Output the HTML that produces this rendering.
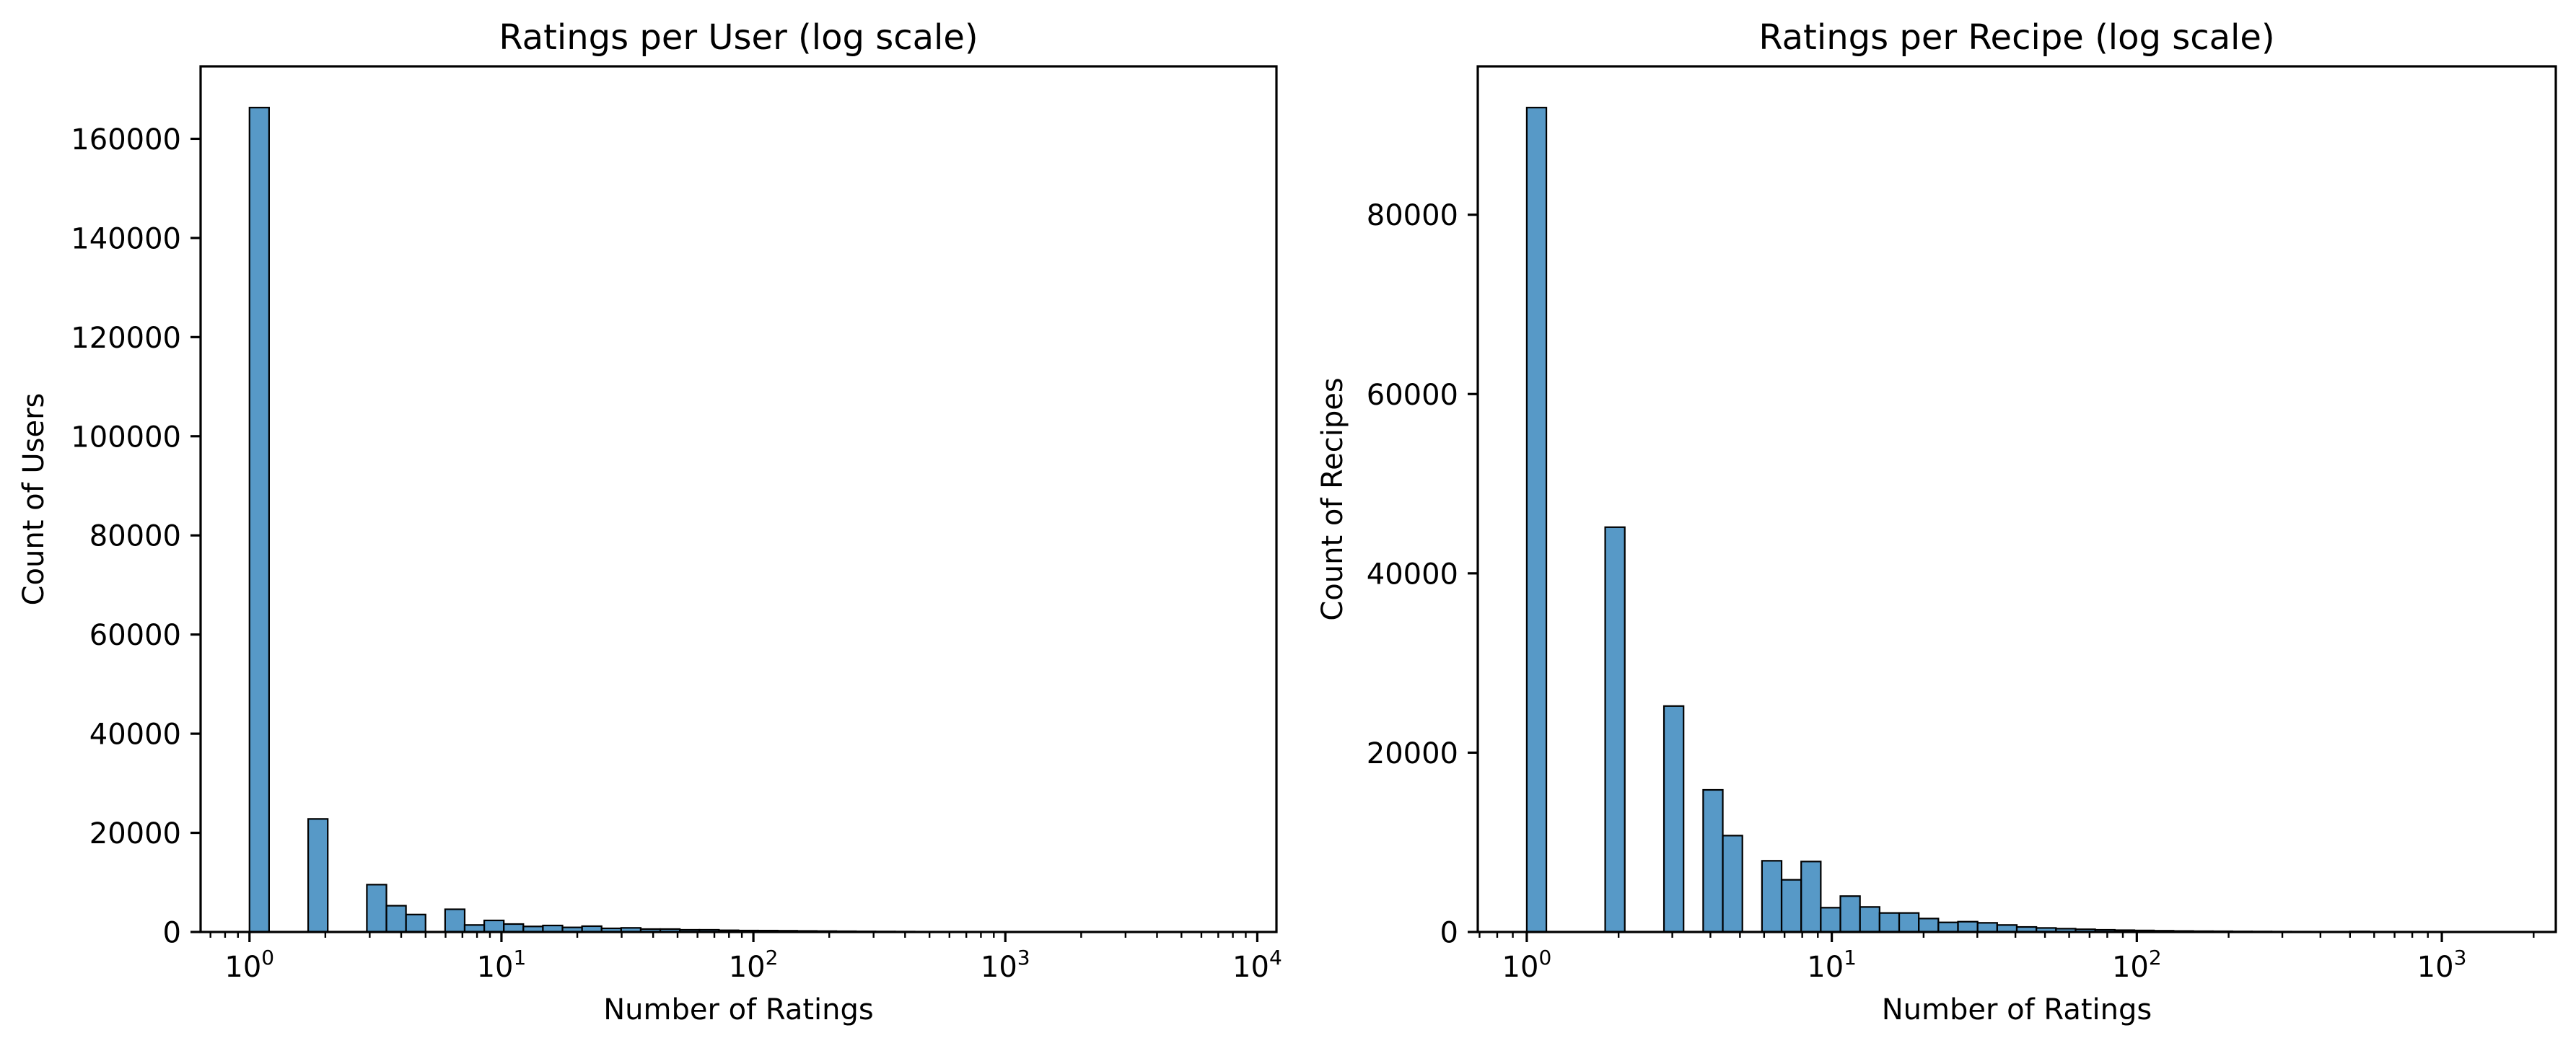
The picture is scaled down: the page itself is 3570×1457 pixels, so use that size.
<!DOCTYPE html>
<html><head><meta charset="utf-8"><style>
html,body{margin:0;padding:0;background:#fff}
svg text{font-family:"DejaVu Sans","Liberation Sans",sans-serif;fill:#000}
</style></head><body>
<svg id="fig" width="3570" height="1452" viewBox="0 0 3570 1452" xmlns="http://www.w3.org/2000/svg"></svg>
<script>
// Left: Ratings per User (50 log bins)
const userLogMax = 3.882;
const userCounts = [166300,0,0,22800,0,0,9550,5300,3520,0,4580,1410,2330,1600,1120,1310,925,1170,730,830,585,585,440,440,340,290,280,250,210,180,150,120,100,80,60,50,40,30,20,10,5,4,3,2,2,1,1,1,0,1];
const userYTicks = [0,20000,40000,60000,80000,100000,120000,140000,160000];
const userXDecades = [0,1,2,3,4];
// Right: Ratings per Recipe
const recipeLogMax = 3.213;
const recipeCounts = [91950,0,0,0,45150,0,0,25200,0,15850,10750,0,7940,5820,7860,2710,4000,2790,2120,2120,1500,1070,1150,1020,780,560,450,370,300,240,200,170,140,110,90,80,60,50,40,35,30,20,60,15,10,8,5,3,2,1];
const recipeYTicks = [0,20000,40000,60000,80000];
const recipeXDecades = [0,1,2,3];

const NS="http://www.w3.org/2000/svg";
const svg=document.getElementById('fig');
function mk(tag,attrs,parent){const e=document.createElementNS(NS,tag);for(const k in attrs)e.setAttribute(k,attrs[k]);(parent||svg).appendChild(e);return e;}

function panel(cfg){
  const L=cfg.left,R=cfg.right,T=92,B=1292;
  const nb=cfg.counts.length, bw=cfg.logMax/nb, pad=cfg.logMax*0.05;
  const x=v=>L+(v+pad)/(cfg.logMax+2*pad)*(R-L);
  const ymax=Math.max(...cfg.counts)*1.05;
  const y=v=>B-v/ymax*(B-T);
  const g=mk('g',{});
  
  
  cfg.counts.forEach((c,i)=>{
    if(c<=0)return;
    const r=mk('rect',{x:x(i*bw),y:y(c),width:x((i+1)*bw)-x(i*bw),height:B-y(c),fill:'rgba(31,119,180,0.75)',stroke:'#000','stroke-width':2.2},g);
    
    
  });
  // y ticks
  cfg.yTicks.forEach(t=>{
    mk('line',{x1:L-14,x2:L,y1:y(t),y2:y(t),stroke:'#000','stroke-width':3.2},g);
    const tx=mk('text',{x:L-27,y:y(t)+14.5,'font-size':40,'text-anchor':'end'},g);
    tx.textContent=String(t);
    
    
  });
  // x ticks
  const lo=-pad, hi=cfg.logMax+pad;
  for(let d=-1;d<=5;d++){
    for(let m=1;m<10;m++){
      const lv=d+Math.log10(m);
      if(lv<lo||lv>hi)continue;
      const xx=x(lv);
      if(m===1){
        mk('line',{x1:xx,x2:xx,y1:B,y2:B+14,stroke:'#000','stroke-width':3.2},g);
      } else {
        mk('line',{x1:xx,x2:xx,y1:B,y2:B+8,stroke:'#000','stroke-width':2.4},g);
      }
    }
  }
  cfg.xDecades.forEach(d=>{
    const tx=mk('text',{x:x(d),y:1354,'font-size':40,'text-anchor':'middle'},g);
    
    
    const a=mk('tspan',{},tx);a.textContent='10';
    const b=mk('tspan',{dy:-17,'font-size':28},tx);b.textContent=String(d);
  });
  // spines
  const sp=mk('rect',{x:L,y:T,width:R-L,height:B-T,fill:'none',stroke:'#000','stroke-width':3.2},g);
  
  
  const ti=mk('text',{x:(L+R)/2,y:68,'font-size':48,'text-anchor':'middle'},g);
  ti.textContent=cfg.title;
  
  
  const xl=mk('text',{x:(L+R)/2,y:1413,'font-size':40,'text-anchor':'middle'},g);
  xl.textContent='Number of Ratings';
  
  
  const yl=mk('text',{x:0,y:0,'font-size':40,'text-anchor':'middle',transform:`translate(${cfg.ylabX},${(T+B)/2}) rotate(-90)`},g);
  yl.textContent=cfg.ylabel;
  
  
}
panel({name:'ratings-per-user-chart',left:278,right:1769,counts:userCounts,logMax:userLogMax,yTicks:userYTicks,xDecades:userXDecades,title:'Ratings per User (log scale)',ylabel:'Count of Users',ylabX:60});
panel({name:'ratings-per-recipe-chart',left:2048,right:3542,counts:recipeCounts,logMax:recipeLogMax,yTicks:recipeYTicks,xDecades:recipeXDecades,title:'Ratings per Recipe (log scale)',ylabel:'Count of Recipes',ylabX:1860});
</script>
</body></html>
